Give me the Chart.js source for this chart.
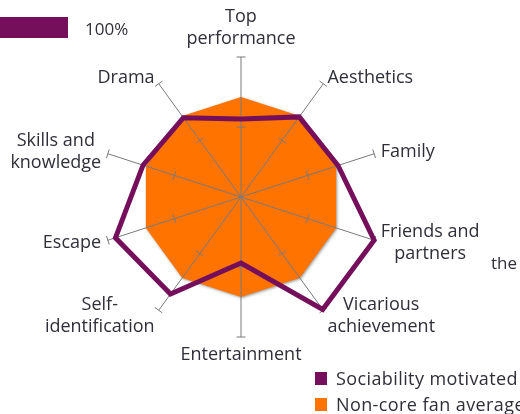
<!DOCTYPE html>
<html>
<head>
<meta charset="utf-8">
<script src="https://cdn.jsdelivr.net/npm/chart.js@4/dist/chart.umd.min.js"></script>
<style>
  body { margin: 0; background: #fff; }
  #wrap { position: relative; width: 520px; height: 414px; overflow: hidden; font-family: "Open Sans", sans-serif; color: #2f2f3a; }
  canvas { position: absolute; left: 0; top: 0; }
  .swatch { position: absolute; }
  .txt { position: absolute; font-size: 17px; white-space: nowrap; line-height: 20px; }
  .leg { font-size: 18px; letter-spacing: 0.4px; }
</style>
</head>
<body>
<div id="wrap">
  <canvas id="radar" width="520" height="414"></canvas>
  <div class="swatch" style="left:0;top:17px;width:68px;height:21px;background:#750f5c"></div>
  <div class="txt" style="left:85px;top:19px">100%</div>
  <div class="txt" style="left:491px;top:253px">the</div>
  <div class="swatch" style="left:315px;top:372px;width:12px;height:13px;background:#750f5c"></div>
  <div class="txt leg" style="left:336px;top:368px">Sociability motivated</div>
  <div class="swatch" style="left:315px;top:398px;width:12px;height:13px;background:#ff7300"></div>
  <div class="txt leg" style="left:336px;top:394px">Non-core fan average</div>
</div>
<script>
// categories (clockwise from top)
const categories = [
  ['Top', 'performance'],
  ['Aesthetics'],
  ['Family'],
  ['Friends and', 'partners'],
  ['Vicarious', 'achievement'],
  ['Entertainment'],
  ['Self-', 'identification'],
  ['Escape'],
  ['Skills and', 'knowledge'],
  ['Drama']
];
const sociability = [78, 99, 102, 140, 139, 66, 120, 132, 103, 98];
const nonCoreAverage = [100, 100, 100, 100, 100, 100, 100, 100, 100, 100];
const scaleMax = 140;
const tickValues = [70, 140];

const purple = '#750f5c';
const orange = '#ff7300';

// spokes with small cross ticks, drawn between the orange area and the purple line
const spokesPlugin = {
  id: 'spokes',
  beforeDatasetsDraw(chart) {
    const ctx = chart.ctx;
    ctx.save();
    ctx.shadowColor = 'rgba(0,0,0,0.4)';
    ctx.shadowBlur = 3;
    ctx.shadowOffsetX = 1;
    ctx.shadowOffsetY = 1;
  },
  afterDatasetDraw(chart, args) {
    if (args.index !== 1) return;
    const ctx = chart.ctx;
    ctx.restore();
    const scale = chart.scales.r;
    ctx.save();
    ctx.strokeStyle = '#7a7a7a';
    ctx.lineWidth = 1;
    categories.forEach((c, i) => {
      const end = scale.getPointPosition(i, scale.getDistanceFromCenterForValue(scaleMax));
      ctx.beginPath();
      ctx.moveTo(scale.xCenter, scale.yCenter);
      ctx.lineTo(end.x, end.y);
      ctx.stroke();
      tickValues.forEach(v => {
        const p = scale.getPointPosition(i, scale.getDistanceFromCenterForValue(v));
        const a = p.angle + Math.PI / 2;
        const dx = Math.cos(a) * 4.5, dy = Math.sin(a) * 4.5;
        ctx.beginPath();
        ctx.moveTo(p.x - dx, p.y - dy);
        ctx.lineTo(p.x + dx, p.y + dy);
        ctx.stroke();
      });
    });
    ctx.restore();
  },
  afterDraw(chart) {
    const ctx = chart.ctx;
    const scale = chart.scales.r;
    const lh = 22;
    ctx.save();
    ctx.font = '18px "Open Sans"';
    ctx.fillStyle = '#2f2f3a';
    ctx.textBaseline = 'middle';
    ctx.textAlign = 'center';
    categories.forEach((lines, i) => {
      const p = scale.getPointPosition(i, scale.drawingArea + 7);
      const w = Math.max(...lines.map(l => ctx.measureText(l).width));
      const h = lines.length * lh;
      const deg = Math.round((i * 360) / categories.length);
      let cx, top;
      if (deg === 0) { cx = p.x; top = p.y - h; }
      else if (deg === 180) { cx = p.x; top = p.y; }
      else if (deg < 180) { cx = p.x + w / 2; top = p.y - h / 2; }
      else { cx = p.x - w / 2; top = p.y - h / 2; }
      lines.forEach((l, k) => ctx.fillText(l, cx, top + lh * k + lh / 2));
    });
    ctx.restore();
  }
};

new Chart(document.getElementById('radar'), {
  type: 'radar',
  data: {
    labels: categories,
    datasets: [
      {
        label: 'Sociability motivated',
        data: sociability,
        borderColor: purple,
        borderWidth: 5,
        borderJoinStyle: 'miter',
        backgroundColor: 'transparent',
        fill: false,
        pointRadius: 0
      },
      {
        label: 'Non-core fan average',
        data: nonCoreAverage,
        borderWidth: 0,
        backgroundColor: orange,
        fill: true,
        pointRadius: 0
      }
    ]
  },
  options: {
    responsive: false,
    animation: false,
    layout: { padding: { left: 101, right: 139, top: 57, bottom: 77 } },
    plugins: { legend: { display: false }, tooltip: { enabled: false } },
    elements: { line: { tension: 0 } },
    scales: {
      r: {
        min: 0,
        max: scaleMax,
        ticks: { display: false, stepSize: 70 },
        grid: { display: false },
        angleLines: { display: false },
        pointLabels: { display: false }
      }
    }
  },
  plugins: [spokesPlugin]
});
</script>
</body>
</html>
